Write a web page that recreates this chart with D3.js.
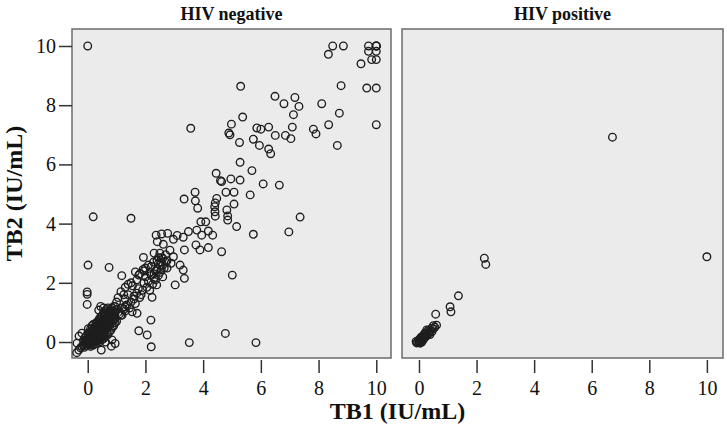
<!DOCTYPE html>
<html>
<head>
<meta charset="utf-8">
<script src="https://cdn.jsdelivr.net/npm/d3@7/dist/d3.min.js"></script>
<style>
  html, body { margin: 0; padding: 0; background: #ffffff; }
  svg { display: block; }
  svg text { font-family: "Liberation Serif", "DejaVu Serif", serif; fill: #111; }
</style>
</head>
<body>
<svg id="chart" width="727" height="438"></svg>
<script>
// ---------------- DATA ----------------
const panelTitles = ["HIV negative", "HIV positive"];
const xTicks = [0, 2, 4, 6, 8, 10];
const yTicks = [0, 2, 4, 6, 8, 10];
const xLabel = "TB1 (IU/mL)";
const yLabel = "TB2 (IU/mL)";

// HIV negative: TB1 values
const negTB1 = [
  -0.38,-0.31,-0.37,-0.25,-0.2,-0.15,-0.12,-0.1,-0.08,-0.05,-0.05,-0.03,0,0,0.01,0.02,0.03,0.03,0.05,0.05,
  0.06,0.07,0.08,0.08,0.1,0.1,0.1,0.12,0.12,0.13,0.14,0.15,0.15,0.16,0.17,0.18,0.19,0.2,0.2,0.21,
  0.22,0.23,0.24,0.25,0.26,0.27,0.28,0.29,0.3,0.3,0.31,0.32,0.33,0.34,0.35,0.36,0.37,0.38,0.39,0.4,
  0.41,0.42,0.43,0.44,0.45,0.46,0.47,0.48,0.47,0.5,0.5,0.51,0.52,0.53,0.54,0.55,0.56,0.57,0.58,0.59,
  0.6,0.61,0.62,0.63,0.64,0.65,0.66,0.67,0.68,0.69,0.7,0.71,0.72,0.73,0.74,0.75,0.76,0.77,0.78,0.8,
  0.82,0.83,0.85,0.87,0.88,0.9,0.92,0.95,0.84,0.82,0.95,0.62,0.55,-0.2,-0.3,0.02,0.0,0.1,0.15,0.2,
  0.25,0.3,0.35,0.4,0.45,0.5,0.55,0.6,0.65,0.7,0.38,0.45,0.55,
  1.05,0.95,1.15,1.0,1.2,1.1,1.3,1.25,1.05,1.19,1.4,1.35,1.15,1.5,1.3,1.45,1.6,1.25,1.55,1.7,
  1.65,1.4,1.8,1.5,1.54,1.75,1.9,1.6,1.7,1.95,1.65,1.85,2.0,1.71,1.8,2.05,1.77,2.1,1.95,2.15,
  2.2,2.0,2.25,1.92,1.93,2.3,2.1,2.35,2.2,2.4,2.15,2.45,2.28,2.5,2.35,2.55,2.4,2.6,2.3,2.45,
  2.65,2.5,2.7,2.55,2.75,2.6,2.39,2.23,2.19,1.77,2.06,2.2,1.18,0.74,0.01,-0.02,-0.02,-0.02,0.19,1.5,
  1.3,1.29,
  2.3,2.37,2.41,2.56,2.6,2.77,2.89,2.97,2.97,3.2,3.31,3.31,3.35,3.03,2.7,2.5,2.55,2.75,2.85,2.62,
  2.45,3.1,3.35,3.49,3.34,
  3.72,3.73,3.81,3.75,3.89,4.18,4.64,3.78,3.92,4.09,4.18,3.95,4.33,4.45,4.64,4.96,5.28,4.79,5.07,5.63,
  4.47,4.42,4.4,4.41,4.42,4.82,4.85,4.85,5.07,5.16,5.74,5.01,5.28,5.69,6.08,6.64,3.57,4.77,3.52,5.83,
  7.36,6.97,4.6,
  4.98,4.89,4.93,5.26,5.3,5.37,5.74,5.86,6.0,5.95,6.27,6.27,6.34,6.49,6.5,6.8,6.85,7.04,7.09,7.13,
  7.18,7.32,7.82,7.91,8.11,8.35,8.72,8.65,8.78,8.34,8.49,8.86,9.47,9.73,9.73,9.84,10,10,10,10,
  10,9.67,10,10,0,
  0.05,0.1,0.15,0.2,0.25,0.3,0.35,0.4,0.45,0.5,0.55,0.6,0.65,0.7,0.75,0.8,0.85,0.9,0.95,1.0,
  0.1,0.15,0.2,0.25,0.3,0.35,0.4,0.45,0.5,0.55,0.6,0.65,0.7,0.75,0.8,0.85,0.9,0.95,1.0,-0.1,
  -0.15,-0.05,0.0,0.28,0.42,0.58,0.62,0.78,0.88,0.92
];
// HIV negative: TB2 values
const negTB2 = [
  -0.36,-0.27,-0.04,-0.2,-0.15,-0.1,-0.18,-0.05,0.0,-0.12,0.05,-0.02,0,0.02,-0.05,0.05,0.1,-0.08,0.0,0.15,
  0.04,-0.03,0.08,0.2,0.02,0.12,-0.1,0.06,0.18,0.3,0.0,0.1,0.22,0.05,0.14,0.28,-0.02,0.08,0.18,0.35,
  0.12,0.25,0.02,0.16,0.3,0.22,0.1,0.4,0.18,0.3,0.05,0.26,0.45,0.15,0.35,0.22,0.5,0.3,0.1,0.4,
  0.25,0.55,0.35,0.18,0.45,0.3,0.6,0.4,-0.27,0.5,0.25,0.65,0.38,0.55,0.3,0.7,0.45,0.6,0.35,0.52,
  0.75,0.42,0.62,0.5,0.8,0.55,0.68,0.45,0.85,0.6,0.72,0.5,0.9,0.65,0.78,0.58,0.95,0.7,0.85,0.65,
  1.0,0.78,0.9,0.72,1.05,0.85,0.98,0.8,0.07,-0.14,-0.05,0.0,0.12,0.3,0.2,0.45,0.3,0.45,0.55,0.6,
  0.5,0.65,0.7,0.78,0.85,0.9,1.0,1.05,1.1,1.15,1.08,1.2,1.15,
  1.0,1.2,0.9,1.35,1.15,0.95,1.45,1.1,1.5,0.91,1.6,1.25,1.7,1.35,1.85,1.15,1.55,1.6,1.9,1.65,
  1.3,1.95,1.5,2.0,1.02,1.8,1.75,1.45,2.1,2.0,2.37,1.6,2.2,0.97,2.3,1.85,2.26,2.05,2.4,1.75,
  2.25,2.5,1.95,2.45,2.86,2.3,2.6,2.1,2.55,2.45,2.35,2.25,2.7,2.6,2.4,2.45,2.75,2.2,2.15,2.65,
  2.5,2.35,2.7,2.85,2.5,2.6,1.93,1.51,0.74,0.38,0.24,-0.16,2.24,2.52,2.6,1.69,1.61,1.27,4.23,4.18,
  1.05,1.19,
  3.0,3.61,3.39,3.65,2.83,3.67,2.66,2.88,3.47,2.6,2.43,3.54,2.15,1.93,2.95,3.0,2.7,2.75,3.1,3.3,
  2.85,3.6,3.11,3.73,4.83,
  5.06,4.77,4.52,3.28,3.11,3.19,3.05,3.78,4.06,4.06,3.75,3.61,3.61,5.7,5.42,5.51,5.47,5.06,5.06,4.97,
  4.85,4.7,4.57,4.4,4.25,4.46,4.26,4.12,4.66,3.9,3.64,2.26,6.07,5.79,5.34,5.3,7.22,0.29,-0.02,-0.02,
  4.22,3.72,5.45,
  7.36,7.06,7.0,6.74,8.64,7.6,6.85,7.23,7.19,6.64,7.26,6.52,6.36,8.3,6.98,8.05,6.98,6.87,7.26,7.68,
  8.26,7.96,7.19,7.03,8.05,7.34,7.73,6.64,8.66,9.72,10.0,10.0,9.4,10.0,9.82,9.54,10,10,10,9.82,
  9.54,8.58,8.58,7.34,10.0,
  0.3,0.35,0.4,0.45,0.38,0.5,0.55,0.6,0.65,0.72,0.8,0.88,0.95,1.0,1.05,1.1,1.15,1.2,1.0,1.1,
  -0.15,-0.05,-0.1,0.0,-0.05,0.05,0.0,0.1,0.08,0.2,0.18,0.3,0.25,0.35,0.4,0.5,0.55,0.65,0.7,0.15,
  0.05,0.2,0.12,0.6,0.75,0.95,0.7,0.95,0.95,0.75
];

// HIV positive: TB1 / TB2 values
const posTB1 = [
  6.72,10.0,2.27,2.32,1.37,1.08,1.11,0.58,0.61,0.44,0.27,0.55,0.5,0.4,0.35,0.3,0.25,0.2,0.2,0.15,
  0.12,0.1,0.08,0.05,0.03,0,0,-0.05,-0.08,0.02,0.1,0.15,0.22,0.28,0.33,0.38,0.45,0.5,0.18,0.06,
  -0.1,0.0,0.04
];
const posTB2 = [
  6.92,2.88,2.83,2.62,1.56,1.19,1.02,0.94,0.57,0.47,0.41,0.5,0.45,0.38,0.3,0.35,0.25,0.3,0.15,0.2,
  0.1,0.18,0.05,0.1,0.0,0,0.03,0.0,-0.03,-0.02,0.0,0.08,0.2,0.22,0.4,0.25,0.35,0.55,0.25,0.15,
  0.02,0.08,-0.04
];

// ---------------- DRAW ----------------
const svg = d3.select("#chart");
const plotTop = 29, plotBottom = 358;
const panels = [
  { title: panelTitles[0], x0: 72, x1: 391, domain: [-0.545, 10.51], xs: negTB1, ys: negTB2 },
  { title: panelTitles[1], x0: 402, x1: 723, domain: [-0.59, 10.56], xs: posTB1, ys: posTB2 }
];
const yScale = d3.scaleLinear().domain([-0.54, 10.574]).range([plotBottom, plotTop]);
const serif = "Liberation Serif, DejaVu Serif, serif";

panels.forEach((p, i) => {
  const xScale = d3.scaleLinear().domain(p.domain).range([p.x0, p.x1]);
  const g = svg.append("g");

  g.append("rect")
    .attr("x", p.x0).attr("y", plotTop)
    .attr("width", p.x1 - p.x0).attr("height", plotBottom - plotTop)
    .attr("fill", "#ebebeb")
    .attr("stroke", "#6b6b6b").attr("stroke-width", 1.5);

  const clipId = "clip" + i;
  svg.append("clipPath").attr("id", clipId)
    .append("rect").attr("x", p.x0).attr("y", plotTop)
    .attr("width", p.x1 - p.x0).attr("height", plotBottom - plotTop);

  const pts = p.xs.map((v, k) => [v, p.ys[k]]);
  g.append("g").attr("clip-path", `url(#${clipId})`)
    .selectAll("circle").data(pts).join("circle")
    .attr("cx", d => xScale(d[0]))
    .attr("cy", d => yScale(d[1]))
    .attr("r", 3.8)
    .attr("fill", "none")
    .attr("stroke", "#1e1e1e")
    .attr("stroke-width", 1.35);

  const xAxis = d3.axisBottom(xScale).tickValues(xTicks).tickSize(13).tickPadding(8).tickFormat(d3.format("d"));
  const gx = g.append("g").attr("transform", `translate(0,${plotBottom + 2})`).call(xAxis);
  gx.attr("font-family", null).attr("font-size", null);
  gx.select(".domain").remove();
  gx.selectAll(".tick line").attr("stroke", "#333").attr("stroke-width", 1.5);
  gx.selectAll(".tick text").style("font-family", serif).style("font-size", "20px");

  if (i === 0) {
    const yAxis = d3.axisLeft(yScale).tickValues(yTicks).tickSize(13).tickPadding(3).tickFormat(d3.format("d"));
    const gy = g.append("g").attr("transform", `translate(${p.x0},0)`).call(yAxis);
    gy.attr("font-family", null).attr("font-size", null);
    gy.select(".domain").remove();
    gy.selectAll(".tick line").attr("stroke", "#333").attr("stroke-width", 1.5);
    gy.selectAll(".tick text").style("font-family", serif).style("font-size", "20px");
  }

  g.append("text")
    .attr("x", (p.x0 + p.x1) / 2).attr("y", 20)
    .attr("text-anchor", "middle")
    .style("font-family", serif)
    .style("font-weight", "bold").style("font-size", "18px")
    .text(p.title);
});

svg.append("text")
  .attr("x", (72 + 723) / 2).attr("y", 419)
  .attr("text-anchor", "middle")
  .style("font-family", serif)
  .style("font-weight", "bold").style("font-size", "24px")
  .text(xLabel);

svg.append("text")
  .attr("transform", `translate(22,${(plotTop + plotBottom) / 2}) rotate(-90)`)
  .attr("text-anchor", "middle")
  .style("font-family", serif)
  .style("font-weight", "bold").style("font-size", "24px")
  .text(yLabel);
</script>
</body>
</html>
